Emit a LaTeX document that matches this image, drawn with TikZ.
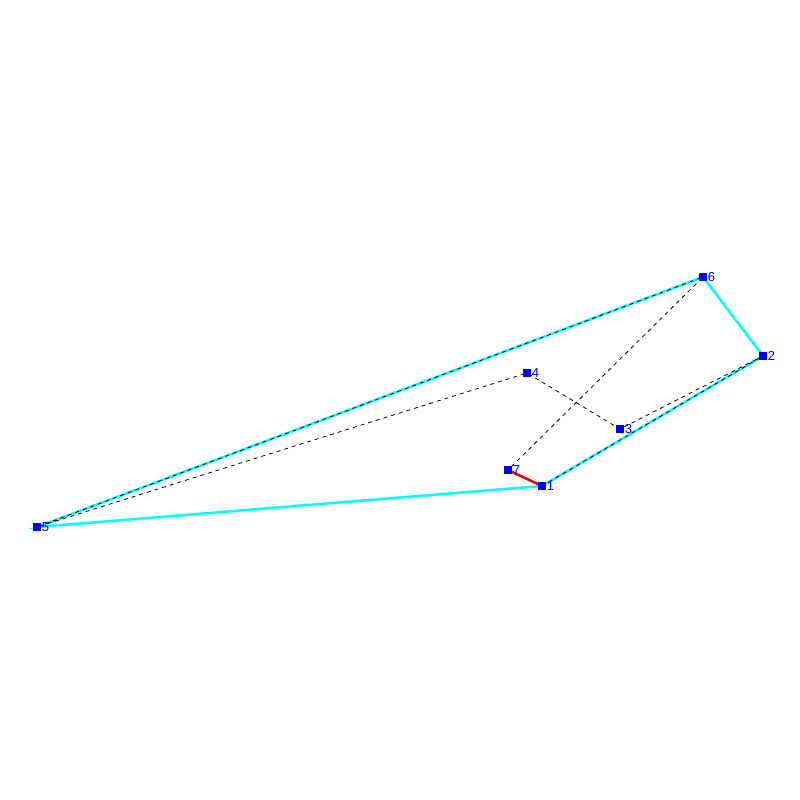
\documentclass[tikz,border=0pt]{standalone}
\usepackage{fontspec}
\setsansfont{Liberation Sans}
\usetikzlibrary{positioning}

\definecolor{hullcyan}{RGB}{0,255,255}
\definecolor{vtxblue}{RGB}{0,0,255}
\definecolor{edgered}{RGB}{230,0,0}

\tikzset{
  vtx/.style={rectangle, fill=vtxblue, inner sep=0pt, minimum size=8pt},
  vlabel/.style={text=vtxblue, font=\sffamily\fontsize{13}{13}\selectfont, inner sep=0.5pt},
  hull/.style={hullcyan, line width=2.5pt},
  tour/.style={black, line width=0.8pt, dash pattern=on 4pt off 4pt},
  closing/.style={edgered, line width=2.5pt}
}

\begin{document}
\begin{tikzpicture}[x=1pt, y=-1pt]
    \useasboundingbox (0,0) rectangle (800,800);

    % Point positions
    \coordinate (c1) at (542,486);
    \coordinate (c2) at (763,356);
    \coordinate (c3) at (620,429);
    \coordinate (c4) at (527,373);
    \coordinate (c5) at (37,527);
    \coordinate (c6) at (703,277);
    \coordinate (c7) at (508,470);

    % Hull
    \draw[hull] (c1) -- (c2) -- (c6) -- (c5) -- cycle;

    % Tour
    \draw[tour] (c1) -- (c2) -- (c3) -- (c4) -- (c5) -- (c6) -- (c7);

    % Closing edge
    \draw[closing] (c7) -- (c1);

    % Points
    \foreach \i in {1,...,7}
        \node[vtx, label={[vlabel]right:\i}] (n\i) at (c\i) {};
\end{tikzpicture}
\end{document}
